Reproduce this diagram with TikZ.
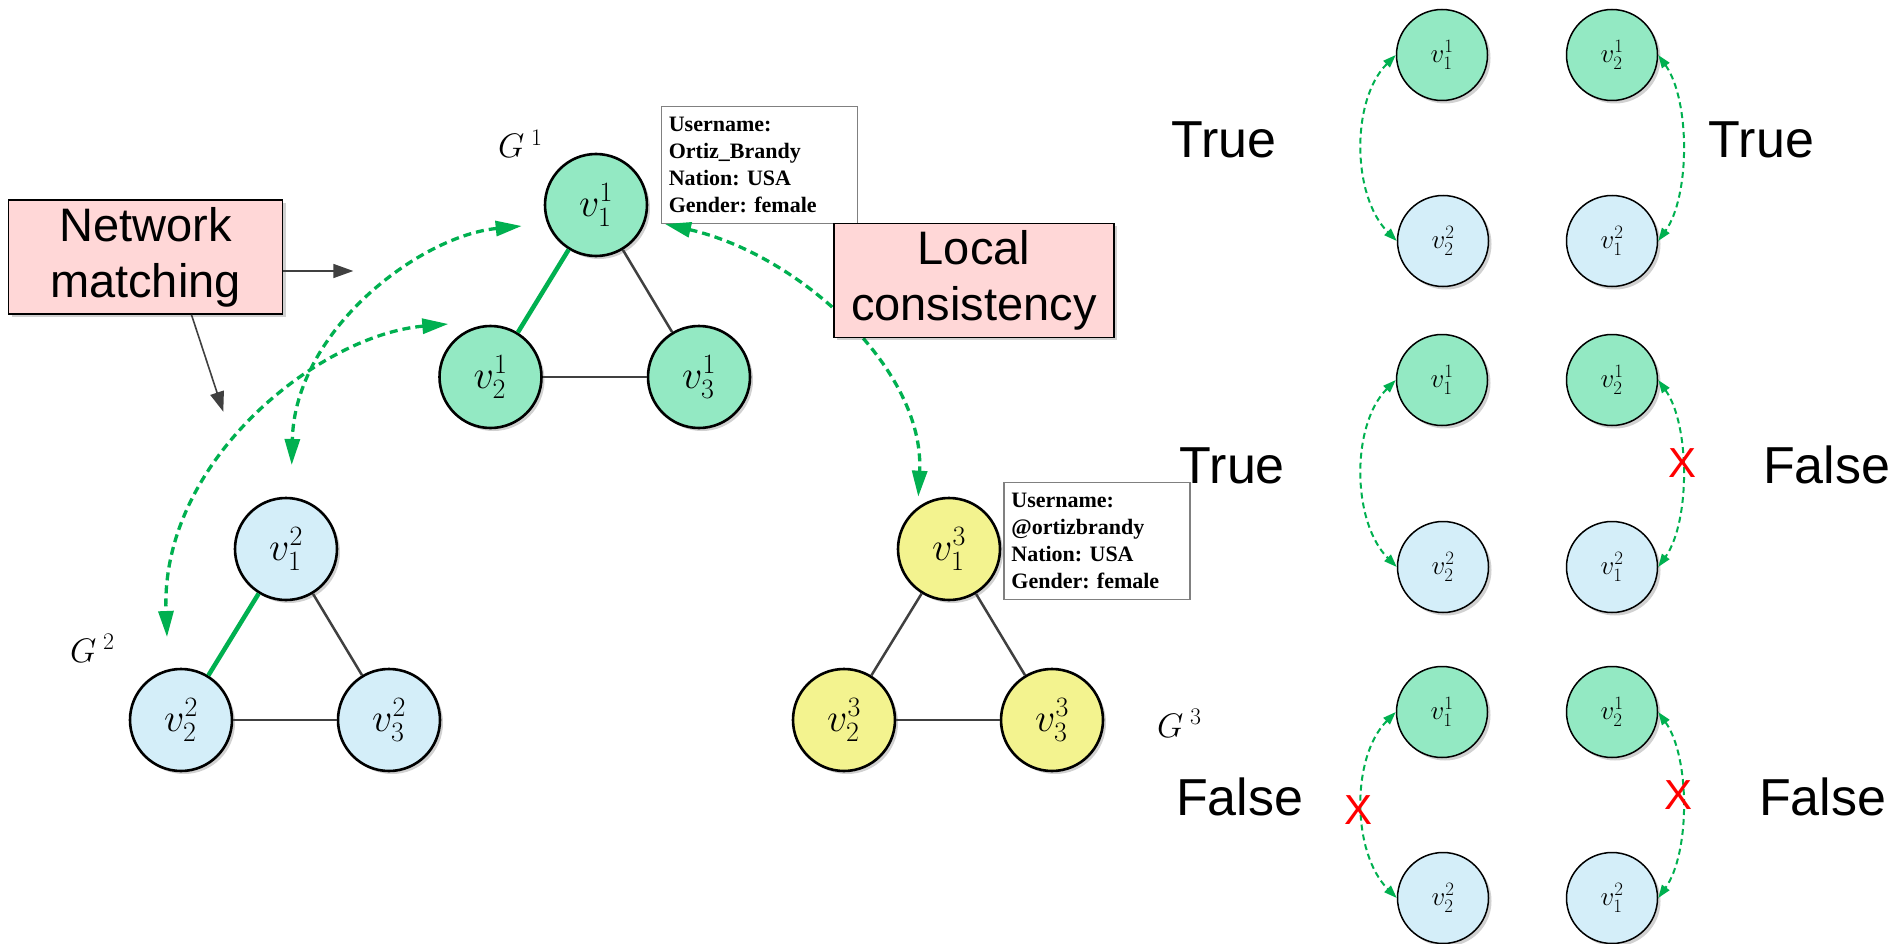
\RequirePackage{fix-cm}
\documentclass[tikz,border=0pt]{standalone}
\usepackage{fontspec}
\newfontfamily\arialf{Liberation Sans}
\newfontfamily\timesf{Liberation Serif}
\usetikzlibrary{arrows.meta,shadows,calc}

\definecolor{linkgreen}{HTML}{00B050}
\definecolor{mint}{HTML}{93E9C3}
\definecolor{skyfill}{HTML}{D4EEF9}
\definecolor{lemon}{HTML}{F3F38F}
\definecolor{rosefill}{HTML}{FFD7D7}
\definecolor{edgegray}{HTML}{404040}

\tikzset{
  softshadow/.style={drop shadow={shadow xshift=3pt,shadow yshift=-3pt,opacity=0.18,fill=black}},
  bignode/.style={circle, draw=black, line width=2.6pt, minimum size=102pt, inner sep=0pt,
    font=\fontsize{40}{42}\selectfont, softshadow},
  smallnode/.style={circle, draw=black, line width=1.5pt, minimum size=91pt, inner sep=0pt,
    font=\fontsize{27}{29}\selectfont, softshadow},
  g1/.style={fill=mint}, g2/.style={fill=skyfill}, g3/.style={fill=lemon},
  plainedge/.style={draw=edgegray, line width=2.5pt},
  matchedge/.style={draw=linkgreen, line width=4.5pt},
  labelbox/.style={draw=black, line width=1.6pt, fill=rosefill, inner sep=0pt, align=center,
    font=\arialf\fontsize{47}{56}\selectfont, softshadow},
  infobox/.style={draw=gray, line width=1.2pt, fill=white, align=left, inner xsep=7.5pt,
    inner ysep=8pt, font=\timesf\bfseries\frenchspacing\fontsize{22}{27}\selectfont,
    anchor=north west, minimum height=117pt},
  pointer/.style={draw=edgegray, line width=1.6pt, -{Triangle[length=20pt,width=14pt]}},
  anchorlink/.style={draw=linkgreen, line width=3.3pt, dash pattern=on 8pt off 5pt,
    {Triangle[length=26pt,width=15pt]}-{Triangle[length=26pt,width=15pt]}},
  pairlink/.style={draw=linkgreen, line width=2pt, dash pattern=on 6pt off 4pt,
    {Triangle[length=13pt,width=9pt]}-{Triangle[length=13pt,width=9pt]}},
  verdict/.style={anchor=base west, inner sep=0pt, font=\arialf\fontsize{52}{52}\selectfont},
  cross/.style={text=red, inner sep=0pt, font=\arialf\fontsize{42}{42}\selectfont},
  glabel/.style={anchor=base west, inner sep=0pt, font=\fontsize{34}{36}\selectfont},
}

\begin{document}
\begin{tikzpicture}[x=1pt,y=-1pt]
\useasboundingbox (0,0) rectangle (1902,944);
\fill[white] (0,0) rectangle (1902,944);

% ---------- network G^1 ----------
\node[bignode,g1] (g1a) at (596,205) {$v_1^1$};
\node[bignode,g1] (g1b) at (490.5,377) {$v_2^1$};
\node[bignode,g1] (g1c) at (699,377) {$v_3^1$};
\draw[matchedge] (g1a) -- (g1b);
\draw[plainedge] (g1a) -- (g1c);
\draw[plainedge] (g1b) -- (g1c);
\node[glabel] (lg1) at (498,158) {$G^{\;1}$};

% ---------- network G^2 ----------
\node[bignode,g2] (g2a) at (286,549) {$v_1^2$};
\node[bignode,g2] (g2b) at (181,720) {$v_2^2$};
\node[bignode,g2] (g2c) at (389,720) {$v_3^2$};
\draw[matchedge] (g2a) -- (g2b);
\draw[plainedge] (g2a) -- (g2c);
\draw[plainedge] (g2b) -- (g2c);
\node[glabel] (lg2) at (70,662) {$G^{\;2}$};

% ---------- network G^3 ----------
\node[bignode,g3] (g3a) at (949,549) {$v_1^3$};
\node[bignode,g3] (g3b) at (844,720) {$v_2^3$};
\node[bignode,g3] (g3c) at (1052,720) {$v_3^3$};
\draw[plainedge] (g3a) -- (g3b);
\draw[plainedge] (g3a) -- (g3c);
\draw[plainedge] (g3b) -- (g3c);
\node[glabel] (lg3) at (1157,737) {$G^{\;3}$};

% ---------- user profiles ----------
\node[infobox, text width=181pt] (info1) at (660.7,106)
  {Username:\\Ortiz\_Brandy\\Nation: USA\\Gender: female};
\node[infobox, text width=171pt] (info2) at (1003.3,481.7)
  {Username:\\@ortizbrandy\\Nation: USA\\Gender: female};

% ---------- anchor links between the networks ----------
\coordinate (m1s) at (521.7,226);
\coordinate (m1e) at (291.7,465);
\coordinate (m2s) at (448.3,324);
\coordinate (m2e) at (167,637);
\coordinate (m3s) at (665,224);
\coordinate (m3e) at (918.3,496.7);
\draw[anchorlink] (m1s) .. controls +(-101.7,10) and +(3.3,-135) .. (m1e);
\draw[anchorlink] (m2s) .. controls +(-128.3,11) and +(-7,-177) .. (m2e);
\draw[anchorlink] (m3s) .. controls +(135,31) and +(6.7,-126.7) .. (m3e);

% ---------- captions ----------
\node[labelbox, minimum width=274pt, minimum height=114pt] (nm) at (145.5,257)
  {Network\\matching};
\coordinate (nmR) at (353.3,271);
\coordinate (nmD) at (223.3,411.7);
\draw[pointer] ([yshift=-14pt]nm.east) -- (nmR);
\draw[pointer] ([xshift=46pt]nm.south) -- (nmD);

\node[labelbox, minimum width=280pt, minimum height=114pt] (lc) at (974,280.3)
  {Local\\consistency};

% ---------- pairwise consistency cases ----------
\foreach \r/\yt/\yb in {1/55/241, 2/380/567, 3/712/898} {
  \node[smallnode,g1] (pa\r) at (1442,\yt) {$v_1^1$};
  \node[smallnode,g1] (pb\r) at (1612,\yt) {$v_2^1$};
  \node[smallnode,g2] (pc\r) at (1443,\yb) {$v_2^2$};
  \node[smallnode,g2] (pd\r) at (1612,\yb) {$v_1^2$};
  \draw[pairlink] (pa\r.west) .. controls +(-45,45) and +(-45,-45) .. (pc\r.west);
  \draw[pairlink] (pb\r.east) .. controls +(32,45) and +(32,-45) .. (pd\r.east);
}

\node[verdict] (v1l) at (1171.6,158) {True};
\node[verdict] (v1r) at (1708.7,158) {True};
\node[verdict] (v2l) at (1179.7,483) {True};
\node[verdict] (v2r) at (1763,483) {False};
\node[verdict] (v3l) at (1176,815) {False};
\node[verdict] (v3r) at (1759,815) {False};

\node[cross] (x2r) at (1682,463) {X};
\node[cross] (x3l) at (1358,810) {X};
\node[cross] (x3r) at (1678,795) {X};
\end{tikzpicture}
\end{document}
